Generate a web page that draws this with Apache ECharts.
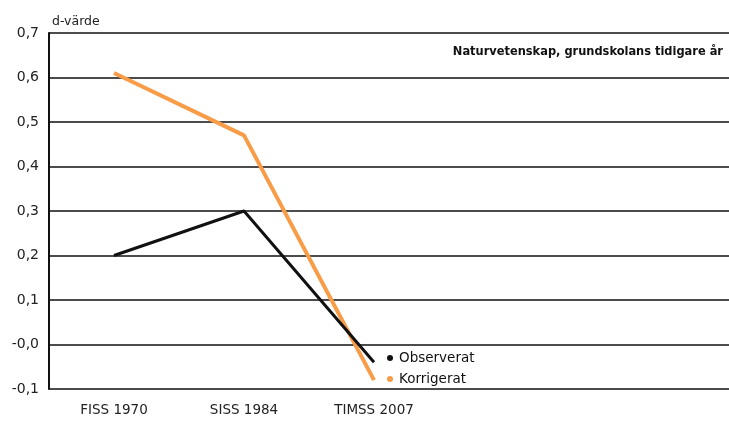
<!DOCTYPE html>
<html>
<head>
<meta charset="utf-8">
<script src="https://cdn.jsdelivr.net/npm/echarts@6/dist/echarts.min.js"></script>
<style>
  html, body { margin: 0; padding: 0; background: #fff; }
  #chart { width: 729px; height: 421px; }
</style>
</head>
<body>
<div id="chart"></div>
<script>
var categories = ['FISS 1970', 'SISS 1984', 'TIMSS 2007'];
var observerat = [0.2, 0.3, -0.04];
var korrigerat = [0.61, 0.47, -0.08];
var catPos = [0.5, 1.5, 2.5];

function pairs(vals) {
    return vals.map(function (v, i) { return [catPos[i], v]; });
}

var myChart = echarts.init(document.getElementById('chart'), null, { renderer: 'canvas' });
var font = 'DejaVu Sans';

myChart.setOption({
    animation: false,
    title: [{
        text: 'Naturvetenskap, grundskolans tidigare år',
        right: 1,
        top: 40,
        textStyle: { fontFamily: 'DejaVu Sans Condensed', fontWeight: 'bold', fontSize: 12.7, color: '#111' }
    }, {
        text: 'd-värde',
        left: 47,
        top: 10,
        textStyle: { fontFamily: font, fontWeight: 'normal', fontSize: 12.5, color: '#222' }
    }],
    legend: {
        orient: 'vertical',
        left: 382,
        top: 346,
        itemWidth: 6,
        itemHeight: 6,
        itemGap: 7,
        icon: 'circle',
        textStyle: { fontFamily: font, fontSize: 13.5, color: '#111', padding: [0, 0, 0, 1] },
        data: ['Observerat', 'Korrigerat']
    },
    grid: { left: 49, right: 0, top: 33, bottom: 32 },
    xAxis: {
        type: 'value',
        min: 0,
        max: 680 / 130,
        axisLine: { show: false },
        axisTick: { show: false },
        splitLine: { show: false },
        axisLabel: {
            customValues: catPos,
            margin: 14,
            fontFamily: font,
            fontSize: 13.5,
            color: '#222',
            formatter: function (v) {
                return categories[Math.round(v - 0.5)] || '';
            }
        }
    },
    yAxis: {
        type: 'value',
        min: -0.1,
        max: 0.7,
        interval: 0.1,
        axisLine: { show: true, lineStyle: { color: '#111', width: 2 } },
        axisTick: { show: false },
        splitLine: { lineStyle: { color: '#111', width: 1.6 } },
        axisLabel: {
            margin: 10,
            fontFamily: font,
            fontSize: 14,
            color: '#222',
            formatter: function (v) {
                var n = Math.round(v * 10);
                return (n <= 0 ? '-' : '') + (Math.abs(n) / 10).toFixed(1).replace('.', ',');
            }
        }
    },
    series: [{
        name: 'Observerat',
        type: 'line',
        data: pairs(observerat),
        showSymbol: false,
        symbol: 'circle',
        itemStyle: { color: '#111' },
        lineStyle: { color: '#111', width: 3 },
        z: 3
    }, {
        name: 'Korrigerat',
        type: 'line',
        data: pairs(korrigerat),
        showSymbol: false,
        symbol: 'circle',
        itemStyle: { color: '#f89c48' },
        lineStyle: { color: '#f89c48', width: 4 },
        z: 2
    }]
});
</script>
</body>
</html>
